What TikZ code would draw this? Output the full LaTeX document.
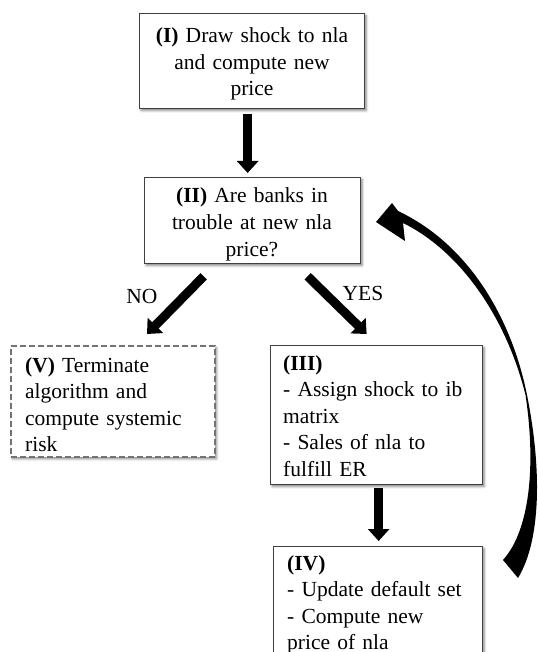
\documentclass[tikz,border=0pt]{standalone}
\usepackage{fontspec}
\setmainfont{Liberation Serif}
\usetikzlibrary{arrows.meta,calc,shadows.blur}
\begin{document}
\begin{tikzpicture}[x=1pt,y=-1pt,
  box/.style={rectangle, draw=black!75, line width=1.3pt, fill=white, inner sep=0pt, anchor=north west,
    blur shadow={shadow xshift=1.5pt, shadow yshift=-1.8pt, shadow blur radius=2.5pt, shadow opacity=50}},
  dbox/.style={box, draw=black!55, line width=2pt, dash pattern=on 6pt off 3pt},
  txt/.style={font=\fontsize{21.5}{26.5}\selectfont, inner sep=0pt},
  ctxt/.style={txt, align=center, anchor=base},
  ltxt/.style={txt, align=left, anchor=base west},
  fat/.style={line width=9pt, -{Triangle[width=21pt,length=12pt]}}
]
\useasboundingbox (0,0) rectangle (538,652);
\clip (0,0) rectangle (538,652);

% boxes
\node[box, minimum width=225pt, minimum height=95pt] (i) at (139,13) {};
\node[ctxt, text width=215pt] (ti) at (252,43) {\textbf{(I)} Draw shock to nla\\and compute new\\price};

\node[box, minimum width=216pt, minimum height=86pt] (ii) at (144,177) {};
\node[ctxt, text width=210pt] (tii) at (252,203) {\textbf{(II)} Are banks in\\trouble at new nla\\price?};

\node[dbox, minimum width=204pt, minimum height=111pt] (v) at (10,345) {};
\node[ltxt, text width=185pt] (tv) at (25,372) {\textbf{(V)} Terminate\\algorithm and\\compute systemic\\risk};

\node[box, minimum width=212pt, minimum height=139pt] (iii) at (270,345) {};
\node[ltxt, text width=195pt] (tiii) at (283,370) {\textbf{(III)}\\- Assign shock to ib\\matrix\\- Sales of nla to\\fulfill ER};

\node[box, minimum width=209pt, minimum height=130pt] (iv) at (273,546) {};
\node[ltxt, text width=190pt] (tiv) at (287,570) {\textbf{(IV)}\\- Update default set\\- Compute new\\price of nla};

% labels
\node[txt] (no) at (142,296) {NO};
\node[txt] (yes) at (363,293) {YES};

% straight arrows
\draw[fat] ($(i.south)+(-4.5,5)$) -- ($(ii.north)+(-5,-4)$);
\draw[fat] ($(ii.south)+(-49,12)$) -- ($(v.north)+(34,-11)$);
\draw[fat] ($(ii.south)+(55,12)$) -- ($(iii.north)+(-10,-11)$);
\draw[fat] ($(iii.south)+(2,3)$) -- ($(iv.north)+(0.5,-5)$);

% curved feedback arrow (IV -> II)
\fill[black] (518,578) .. controls (541,540) and (542,470) .. (527,395)
  .. controls (512,320) and (470,245) .. (398,211)
  -- (392,203) -- (376,222) -- (405,241) -- (403,223)
  .. controls (462,252) and (507,320) .. (525.5,395)
  .. controls (536,465) and (530,530) .. (503,560) -- cycle;
\end{tikzpicture}
\end{document}
